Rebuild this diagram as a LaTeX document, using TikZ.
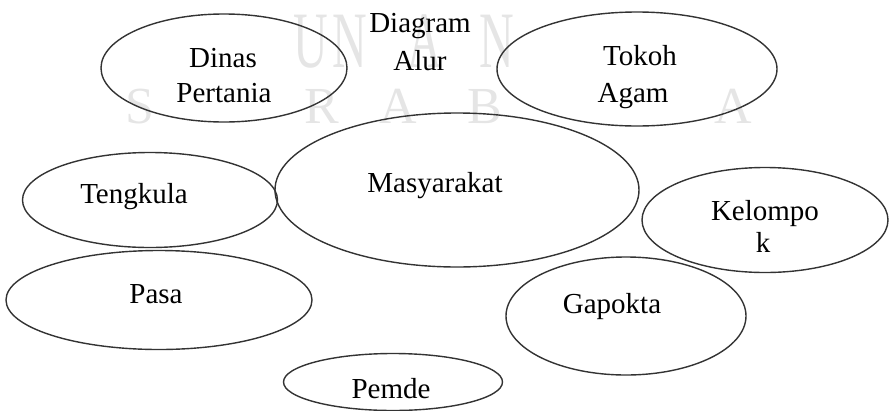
\documentclass[tikz,border=0pt]{standalone}
\usepackage{fontspec}
\setmainfont{Liberation Serif}
\usetikzlibrary{shapes.geometric}
\tikzset{
	bubble/.style={ellipse, draw=black!80, line width=1.4pt, inner sep=0pt},
	lbl/.style={anchor=base, inner sep=0pt, font=\fontsize{29}{35}\selectfont},
	wmbig/.style={anchor=base, inner sep=0pt, text=black!10, font=\fontsize{80}{90}\selectfont, xscale=0.6},
	wmsmall/.style={anchor=base, inner sep=0pt, text=black!10, font=\fontsize{52}{60}\selectfont}
}

\begin{document}
\begin{tikzpicture}[x=1pt,y=-1pt]
		\useasboundingbox (0,0) rectangle (891,410);
		% watermark
		\node[wmbig] (w1) at (311,67) {U};
		\node[wmbig] (w2) at (350,67) {N};
		\node[wmbig] (w3) at (425,67) {A};
		\node[wmbig] (w4) at (497,67) {N};
		\node[wmsmall] (w5) at (140,123) {S};
		\node[wmsmall] (w6) at (322,123) {R};
		\node[wmsmall] (w7) at (398,123) {A};
		\node[wmsmall] (w8) at (485,123) {B};
		\node[wmsmall] (w9) at (733,123) {A};
		
		\node[bubble, minimum width=246pt, minimum height=108pt] (D) at (224,68) {};
		\node[bubble, minimum width=280pt, minimum height=114pt] (T) at (637,69) {};
		\node[bubble, minimum width=364pt, minimum height=154pt] (M) at (457,190) {};
		\node[bubble, minimum width=255pt, minimum height=95pt] (Tk) at (150,200) {};
		\node[bubble, minimum width=246pt, minimum height=105pt] (K) at (765,220) {};
		\node[bubble, minimum width=306pt, minimum height=99pt] (P) at (159,300) {};
		\node[bubble, minimum width=240pt, minimum height=118pt] (G) at (626,316) {};
		\node[bubble, minimum width=219pt, minimum height=57pt] (Pm) at (393,382) {};
		
		\node[lbl] (A) at (420,32) {Diagram};
		\node[lbl] (A') at (420,70) {Alur};
		\node[lbl] (D') at (223,67) {Dinas};
		\node[lbl] (D'') at (224,102) {Pertania};
		\node[lbl] (T') at (640,65) {Tokoh};
		\node[lbl] (T'') at (633,102) {Agam};
		\node[lbl] (M') at (435,192) {Masyarakat};
		\node[lbl] (Tk') at (134,203) {Tengkula};
		\node[lbl] (K') at (765,220) {Kelompo};
		\node[lbl] (K'') at (763,252) {k};
		\node[lbl] (P') at (156,303) {Pasa};
		\node[lbl] (G') at (612,313) {Gapokta};
		\node[lbl] (Pm') at (391,398) {Pemde};
	\end{tikzpicture}
\end{document}
